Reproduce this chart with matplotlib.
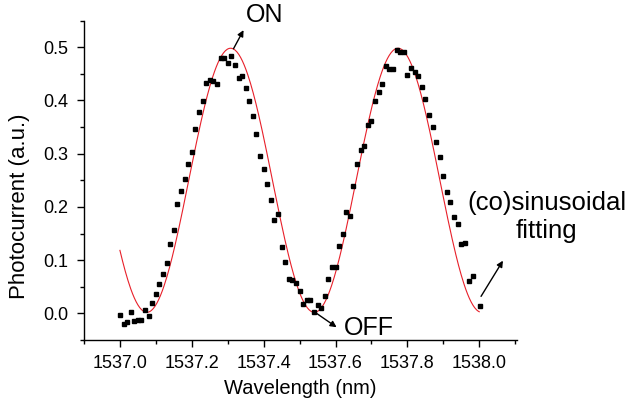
import numpy as np
import matplotlib
matplotlib.use('Agg')
import matplotlib.pyplot as plt
from matplotlib.ticker import MultipleLocator, FormatStrFormatter

plt.rcParams['font.family'] = ['Liberation Sans', 'DejaVu Sans']

wavelength = [
    1537.000, 1537.010, 1537.020, 1537.030, 1537.040, 1537.050, 1537.060, 1537.070,
    1537.080, 1537.090, 1537.100, 1537.110, 1537.120, 1537.130, 1537.140, 1537.150,
    1537.160, 1537.170, 1537.180, 1537.190, 1537.200, 1537.210, 1537.220, 1537.230,
    1537.240, 1537.250, 1537.260, 1537.270, 1537.280, 1537.290, 1537.300, 1537.310,
    1537.320, 1537.330, 1537.340, 1537.350, 1537.360, 1537.370, 1537.380, 1537.390,
    1537.400, 1537.410, 1537.420, 1537.430, 1537.440, 1537.450, 1537.460, 1537.470,
    1537.480, 1537.490, 1537.500, 1537.510, 1537.520, 1537.530, 1537.540, 1537.550,
    1537.560, 1537.570, 1537.580, 1537.590, 1537.600, 1537.610, 1537.620, 1537.630,
    1537.640, 1537.650, 1537.660, 1537.670, 1537.680, 1537.690, 1537.700, 1537.710,
    1537.720, 1537.730, 1537.740, 1537.750, 1537.760, 1537.770, 1537.780, 1537.790,
    1537.800, 1537.810, 1537.820, 1537.830, 1537.840, 1537.850, 1537.860, 1537.870,
    1537.880, 1537.890, 1537.900, 1537.910, 1537.920, 1537.930, 1537.940, 1537.950,
    1537.960, 1537.972, 1537.982, 1538.002,
]
photocurrent = [
    -0.003, -0.020, -0.017, 0.002, -0.015, -0.013, -0.013, 0.007,
    -0.005, 0.020, 0.037, 0.056, 0.074, 0.095, 0.131, 0.156,
    0.206, 0.230, 0.253, 0.280, 0.303, 0.347, 0.379, 0.398,
    0.433, 0.439, 0.436, 0.431, 0.480, 0.480, 0.470, 0.484,
    0.467, 0.443, 0.445, 0.423, 0.398, 0.370, 0.336, 0.296,
    0.271, 0.243, 0.213, 0.176, 0.187, 0.125, 0.097, 0.065,
    0.062, 0.057, 0.042, 0.018, 0.025, 0.025, 0.002, 0.016,
    0.011, 0.033, 0.065, 0.087, 0.087, 0.126, 0.150, 0.191,
    0.182, 0.239, 0.280, 0.307, 0.315, 0.353, 0.362, 0.398,
    0.416, 0.430, 0.465, 0.459, 0.459, 0.494, 0.491, 0.491,
    0.447, 0.461, 0.453, 0.445, 0.425, 0.403, 0.372, 0.351,
    0.321, 0.294, 0.258, 0.228, 0.209, 0.181, 0.167, 0.130,
    0.133, 0.060, 0.070, 0.014,
]

# (co)sinusoidal fit parameters
fit_offset = 0.25
fit_amp = 0.248
fit_peak = 1537.308
fit_period = 0.466
fit_start, fit_end = 1537.0, 1538.0

fit_x = np.linspace(fit_start, fit_end, 400)
fit_y = fit_offset + fit_amp * np.cos(2 * np.pi * (fit_x - fit_peak) / fit_period)

fig = plt.figure(figsize=(6.33, 4.11), dpi=100)
ax = fig.add_axes([0.1327, 0.1727, 0.684, 0.7773])

ax.plot(fit_x, fit_y, color='#e8202a', lw=0.8, zorder=2)
ax.plot(wavelength, photocurrent, 's', color='black', markersize=3.2, zorder=3)

ax.set_xlim(1536.9, 1538.105)
ax.set_ylim(-0.05, 0.55)

ax.xaxis.set_major_locator(MultipleLocator(0.2))
ax.xaxis.set_minor_locator(MultipleLocator(0.1))
ax.yaxis.set_major_locator(MultipleLocator(0.1))
ax.yaxis.set_minor_locator(MultipleLocator(0.05))
ax.xaxis.set_major_formatter(FormatStrFormatter('%.1f'))
ax.yaxis.set_major_formatter(FormatStrFormatter('%.1f'))

ax.spines['top'].set_visible(False)
ax.spines['right'].set_visible(False)
for s in ['left', 'bottom']:
    ax.spines[s].set_linewidth(1.0)
ax.tick_params(which='major', direction='out', length=5, width=1, labelsize=13, pad=6)
ax.tick_params(which='minor', direction='out', length=3, width=1)

ax.set_xlabel('Wavelength (nm)', fontsize=14.5)
ax.set_ylabel('Photocurrent (a.u.)', fontsize=16)
ax.xaxis.set_label_coords(0.499, -0.123)
ax.yaxis.set_label_coords(-0.125, 0.418)

arrow = dict(arrowstyle='-|>', color='black', lw=1, mutation_scale=9, shrinkA=0, shrinkB=0)

ax.annotate('', xy=(1537.344, 0.532), xytext=(1537.316, 0.497),
            arrowprops=arrow, annotation_clip=False)
ax.text(1537.403, 0.560, 'ON', fontsize=18, ha='center', va='center', clip_on=False)

ax.annotate('', xy=(1537.603, -0.026), xytext=(1537.541, 0.003),
            arrowprops=arrow, annotation_clip=False)
ax.text(1537.694, -0.027, 'OFF', fontsize=18, ha='center', va='center', clip_on=False)

ax.annotate('', xy=(1538.066, 0.099), xytext=(1538.005, 0.032),
            arrowprops=arrow, annotation_clip=False)
ax.text(1538.188, 0.181, '(co)sinusoidal\nfitting', fontsize=18.5, ha='center',
        va='center', linespacing=1.25, clip_on=False)

fig.savefig('out.png', dpi=100)
